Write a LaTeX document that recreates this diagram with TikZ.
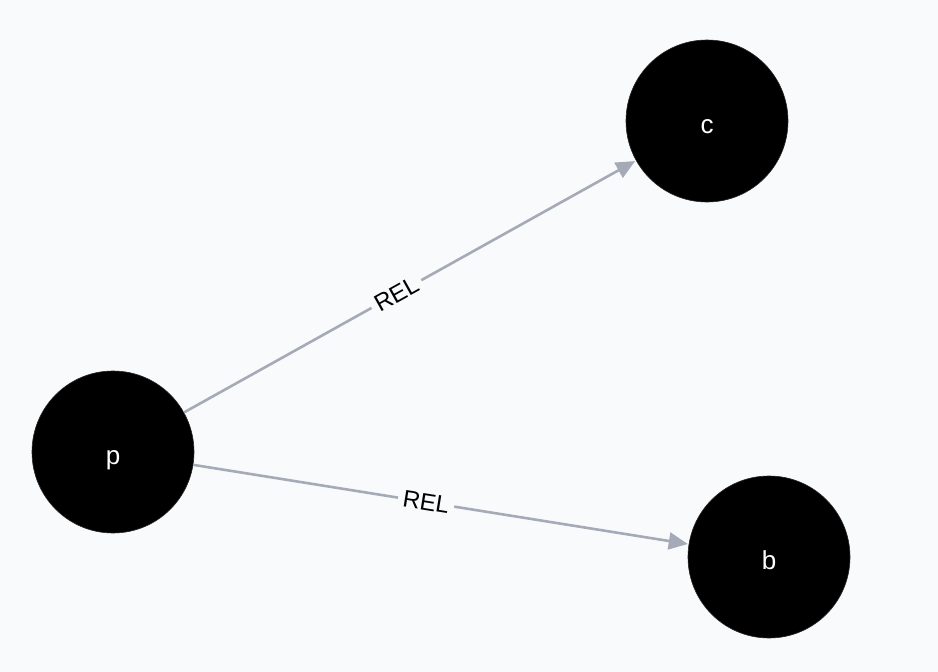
\documentclass[tikz,border=0pt]{standalone}
\usepackage{fontspec}
\setmainfont{Liberation Sans}
\usetikzlibrary{arrows.meta}
\definecolor{bg}{HTML}{F9FAFB}
\definecolor{edgec}{HTML}{A5ABB6}
\begin{document}
\begin{tikzpicture}[x=1pt,y=-1pt,
  vertex/.style={circle,fill=black,draw=black!85,line width=0.6pt,minimum size=162pt,inner sep=0pt},
  vlabel/.style={anchor=base,inner sep=0pt,text=white,font=\fontsize{26}{30}\selectfont},
  rel/.style={draw=edgec,line width=2.6pt,-{Triangle[length=19pt,width=17pt]},shorten >=1pt},
  rellabel/.style={fill=bg,inner sep=5pt,font=\fontsize{24}{28}\selectfont,sloped,pos=0.47}]
\fill[bg] (0,0) rectangle (938,672);
\useasboundingbox (0,0) rectangle (938,672);
\node[vertex] (p) at (113,452) {};
\node[vertex] (c) at (707,121) {};
\node[vertex] (b) at (769,557) {};
\node[vlabel] (pl) at ([yshift=-12pt]p.center) {p};
\node[vlabel] (cl) at ([yshift=-12pt]c.center) {c};
\node[vlabel] (bl) at ([yshift=-12pt]b.center) {b};
\draw[rel] (p) -- node[rellabel] {REL} (c);
\draw[rel] (p) -- node[rellabel] {REL} (b);
\end{tikzpicture}
\end{document}
